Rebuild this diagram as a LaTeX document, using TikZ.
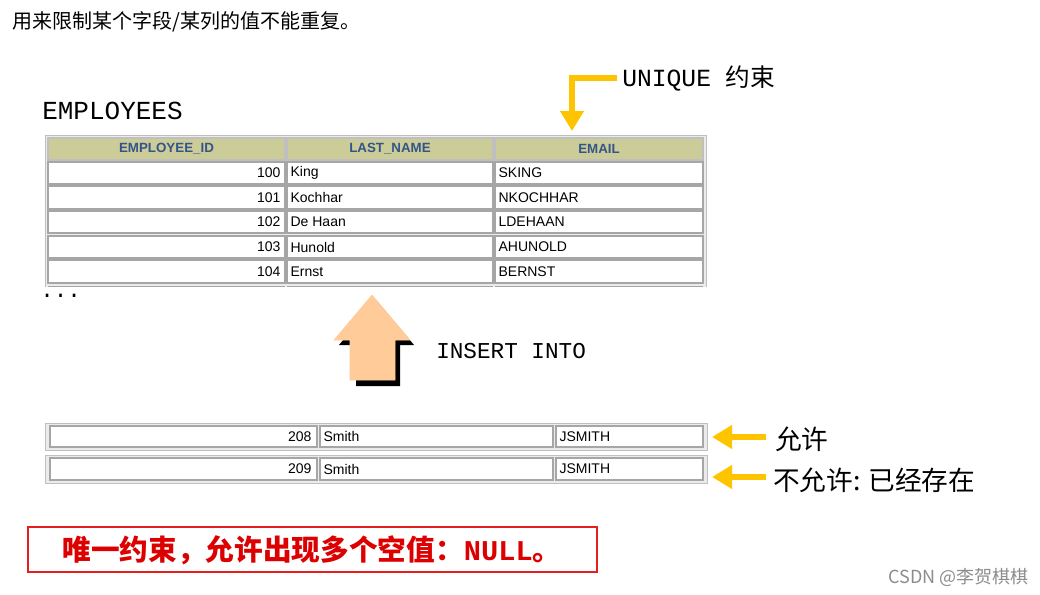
\documentclass[tikz,border=0pt]{standalone}
\usepackage{fontspec}
\usetikzlibrary{arrows.meta}
\setmainfont{Liberation Sans}
\newfontfamily\cjk{Noto Sans CJK SC}
\newfontfamily\mono{Liberation Mono}
\newfontfamily\serifcjk{Noto Sans CJK SC}
\begin{document}
\begin{tikzpicture}[x=0.75pt,y=-0.75pt,
  cell/.style={draw=black!35,fill=white,line width=0.8pt},
  hcell/.style={draw=black!25,fill={rgb,255:red,204;green,204;blue,153},line width=0.8pt},
  tx/.style={font=\fontsize{10.5}{12}\selectfont,inner sep=1pt},
  hd/.style={font=\fontsize{10}{12}\selectfont\bfseries,text={rgb,255:red,51;green,85;blue,136}},
  ya/.style={draw={rgb,255:red,255;green,196;blue,0},line width=4.5pt,-{Triangle[length=15pt,width=17pt]}},
  lbl/.style={anchor=west,inner sep=0pt}]
\useasboundingbox (0,0) rectangle (1040,594);
\node[lbl,font=\cjk\fontsize{15}{17}\selectfont] (title) at (12,22) {用来限制某个字段/某列的值不能重复。};
\node[lbl,font=\mono\fontsize{19.5}{21}\selectfont] (emp) at (42,111) {EMPLOYEES};
\node[lbl,font=\mono\fontsize{18.5}{21}\selectfont] (uq) at (622,78) {UNIQUE \cjk 约束};
\coordinate (ucorner) at (572,78);
\coordinate (utip) at (572,131);
\draw[ya] ([xshift=-4pt]uq.west) -- (ucorner) -- (utip);
% table
\fill[black!8] (45,135) rectangle (706,287);
\draw[black!25] (45,287) -- (45,135) -- (706,135) -- (706,287);
\foreach \a/\b/\t in {48/285/EMPLOYEE\_ID,287/493/LAST\_NAME,495/703/EMAIL}
  \path[hcell] (\a,138) rectangle (\b,160) node[midway,hd] {\t};
\foreach \ya/\yb/\id/\nm/\em in {162/184/100/King/SKING,186/209/101/Kochhar/NKOCHHAR,211/233/102/De Haan/LDEHAAN,236/258/103/Hunold/AHUNOLD,260/283/104/Ernst/BERNST}{
  \draw[cell] (48,\ya) rectangle (285,\yb);
  \draw[cell] (287,\ya) rectangle (493,\yb);
  \draw[cell] (495,\ya) rectangle (703,\yb);
  \node[tx,anchor=east] at (282,{(\ya+\yb)/2}) {\id};
  \node[tx,anchor=west] at (289,{(\ya+\yb)/2}) {\nm};
  \node[tx,anchor=west] at (497,{(\ya+\yb)/2}) {\em};
}
\draw[black!35] (48,286) -- (285,286) (287,286) -- (493,286) (495,286) -- (703,286);
\node[lbl,font=\mono\fontsize{17}{19}\selectfont] (dots) at (40,296) {...};
% big arrow
\fill[black] (339,345) -- (356,345) -- (356,386) -- (400,386) -- (400,345) -- (414,345) -- (376,300) -- cycle;
\filldraw[fill={rgb,255:red,255;green,204;blue,153},draw={rgb,255:red,255;green,204;blue,153}] (334,340) -- (350,340) -- (350,380) -- (395,380) -- (395,340) -- (410,340) -- (372,295) -- cycle;
\node[lbl,font=\mono\fontsize{17}{19}\selectfont] (ins) at (436,351) {INSERT INTO};
% lower rows
\foreach \ya/\yb/\id [count=\i] in {423/450/208,455/483/209}{
  \fill[black!8] (45,\ya) rectangle (707,\yb);
  \draw[black!25] (45,\ya) rectangle (707,\yb);
  \draw[cell] (50,{\ya+3}) rectangle (317,{\yb-3});
  \draw[cell] (320,{\ya+3}) rectangle (553,{\yb-3});
  \draw[cell] (556,{\ya+3}) rectangle (703,{\yb-3});
  \node[tx,anchor=east] at (313,{(\ya+\yb)/2}) {\id};
  \node[tx,anchor=west] at (322,{(\ya+\yb)/2}) {Smith};
  \node[tx,anchor=west] at (558,{(\ya+\yb)/2}) {JSMITH};
}
\coordinate (r1) at (712,437);
\coordinate (r2) at (712,477);
\node[lbl,font=\cjk\fontsize{20}{22}\selectfont] (ok) at (775,439) {允许};
\node[lbl,font=\cjk\fontsize{20}{22}\selectfont] (no) at (773,480) {不允许: 已经存在};
\coordinate (okst) at (766,437);
\draw[ya] (okst) -- (r1);
\coordinate (nost) at (766,477);
\draw[ya] (nost) -- (r2);
% red box
\draw[draw={rgb,255:red,230;green,30;blue,30},line width=1.5pt] (28,527) rectangle (597,572);
\node[font=\serifcjk\bfseries\fontsize{21.5}{24}\selectfont,text={rgb,255:red,220;green,0;blue,0}] (note) at (312,550) {唯一约束，允许出现多个空值：\mono\bfseries NULL\cjk 。};
\node[lbl,font=\cjk\fontsize{13.5}{15}\selectfont,text=black!45] (wm) at (888,577) {CSDN @李贺棋棋};
\end{tikzpicture}
\end{document}
